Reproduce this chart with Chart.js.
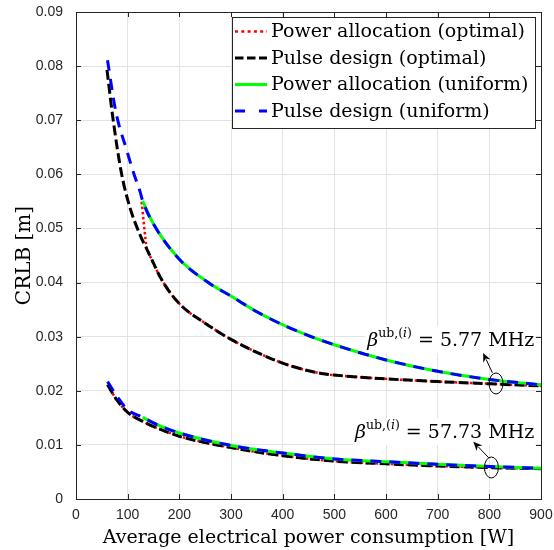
<!DOCTYPE html>
<html>
<head>
<meta charset="utf-8">
<script src="https://cdn.jsdelivr.net/npm/chart.js@4.4.1/dist/chart.umd.min.js"></script>
<style>
  html, body { margin: 0; padding: 0; background: #fff; }
</style>
</head>
<body>
<canvas id="canvas" width="554" height="550"></canvas>
<script>
// values: average power [W] -> CRLB [m]

// upper group (beta = 5.77 MHz)
let hiOptW      = [60, 72, 88, 104, 124, 140, 166, 200, 250, 300, 350, 400, 450, 475, 500, 600, 700, 800, 900];
let hiOptCRLB   = [0.0793, 0.0700, 0.0602, 0.0540, 0.0488, 0.0456, 0.0405, 0.0361, 0.0325, 0.0295, 0.0271, 0.0251, 0.0237, 0.0232, 0.0229, 0.0222, 0.0217, 0.0213, 0.0209];
let hiPowW      = [127, 137, 140, 166, 200, 250, 300, 350, 400, 450, 475, 500, 600, 700, 800, 900];
let hiPowCRLB   = [0.0549, 0.0463, 0.0456, 0.0405, 0.0361, 0.0325, 0.0295, 0.0271, 0.0251, 0.0237, 0.0232, 0.0229, 0.0222, 0.0217, 0.0213, 0.0209];
let hiUniW      = [129, 150, 200, 256, 300, 350, 400, 450, 500, 600, 700, 800, 900];
let hiUniCRLB   = [0.0551, 0.0508, 0.0443, 0.0400, 0.0375, 0.0346, 0.0322, 0.0302, 0.0285, 0.0257, 0.0236, 0.0221, 0.0211];
let hiPulseW    = [61, 77, 98, 112, 124, 129, 150, 200, 256, 300, 350, 400, 450, 500, 600, 700, 800, 900];
let hiPulseCRLB = [0.0811, 0.0716, 0.0645, 0.0601, 0.0568, 0.0551, 0.0508, 0.0443, 0.0400, 0.0375, 0.0346, 0.0322, 0.0302, 0.0285, 0.0257, 0.0236, 0.0221, 0.0211];

// lower group (beta = 57.73 MHz)
let loOptW      = [61, 79, 100, 130, 160, 200, 300, 400, 500, 600, 700, 800, 900];
let loOptCRLB   = [0.0211, 0.0183, 0.0160, 0.0143, 0.0130, 0.0116, 0.0095, 0.0080, 0.0070, 0.0065, 0.0061, 0.0058, 0.0056];
let loUniW      = [129, 160, 200, 300, 400, 500, 600, 700, 800, 900];
let loUniCRLB   = [0.0151, 0.0136, 0.0122, 0.0099, 0.0085, 0.0074, 0.0069, 0.0064, 0.0060, 0.0057];
let loPulseW    = [61, 80, 100, 129, 160, 200, 300, 400, 500, 600, 700, 800, 900];
let loPulseCRLB = [0.0217, 0.0189, 0.0165, 0.0151, 0.0136, 0.0122, 0.0099, 0.0085, 0.0074, 0.0069, 0.0064, 0.0060, 0.0057];

let seriesNames = ['Power allocation (optimal)', 'Pulse design (optimal)', 'Power allocation (uniform)', 'Pulse design (uniform)'];
let betaLabels  = ['5.77', '57.73'];

let xTicksMax = 900;
let yTicksMax = 0.09;

// annotation anchors, in data units
let notes = [
  { value: betaLabels[0], textW: 887, textV: 0.0283, ellW: 813, ellV: 0.02135, tailW: 806, tailV: 0.0233, tipW: 788, tipV: 0.0270 },
  { value: betaLabels[1], textW: 887, textV: 0.01127, ellW: 804, ellV: 0.00582, tailW: 799, tailV: 0.0076, tipW: 769, tipV: 0.0106 }
];

function pts(xs, ys) {
  return xs.map(function(x, i) { return { x: x, y: ys[i] }; });
}

let serif = '"DejaVu Serif", "Liberation Serif", serif';

// line styles per series
let looks = [
  { borderColor: '#ff0000', borderWidth: 2.5, borderDash: [2.5, 2.5], legendDash: [3, 3.3], order: 4 },
  { borderColor: '#000000', borderWidth: 3,   borderDash: [10, 4],    legendDash: [8.5, 3.5], order: 3 },
  { borderColor: '#00ff00', borderWidth: 3,   borderDash: [],         legendDash: [], order: 2 },
  { borderColor: '#0000ff', borderWidth: 3,   borderDash: [11, 8],    legendDash: [10, 14], order: 1 }
];

function makeSet(k, data, inLegend) {
  return Object.assign({
    label: seriesNames[k],
    data: data,
    inLegend: inLegend,
    fill: false,
    pointRadius: 0,
    pointHoverRadius: 0,
    cubicInterpolationMode: 'monotone',
    borderCapStyle: 'butt'
  }, looks[k]);
}

let datasets = [
  makeSet(0, pts(hiPowW, hiPowCRLB), true),
  makeSet(1, pts(hiOptW, hiOptCRLB), true),
  makeSet(2, pts(hiUniW, hiUniCRLB), true),
  makeSet(3, pts(hiPulseW, hiPulseCRLB), true),
  makeSet(0, pts(loOptW, loOptCRLB), false),
  makeSet(1, pts(loOptW, loOptCRLB), false),
  makeSet(2, pts(loUniW, loUniCRLB), false),
  makeSet(3, pts(loPulseW, loPulseCRLB), false)
];

function drawNote(ctx, xs, ys, n) {
  let right = xs.getPixelForValue(n.textW);
  let base = ys.getPixelForValue(n.textV);
  let parts = [
    { t: '\u03B2', f: 'italic 19px ' + serif, dy: 0 },
    { t: 'ub,(', f: '12.5px ' + serif, dy: -9 },
    { t: 'i', f: 'italic 12.5px ' + serif, dy: -9 },
    { t: ')', f: '12.5px ' + serif, dy: -9 },
    { t: ' = ' + n.value + ' MHz', f: '19px ' + serif, dy: 0 }
  ];
  let total = 0;
  parts.forEach(function(p) { ctx.font = p.f; p.w = ctx.measureText(p.t).width; total += p.w; });
  let left = right - total;
  ctx.fillStyle = '#ffffff';
  ctx.fillRect(left - 2, base - 20, total + 3, 27);
  ctx.fillStyle = '#000000';
  ctx.textBaseline = 'alphabetic';
  ctx.textAlign = 'left';
  let cx = left;
  parts.forEach(function(p) {
    ctx.font = p.f;
    ctx.fillText(p.t, cx, base + p.dy);
    cx += p.w;
  });

  // ellipse round the two curves
  ctx.strokeStyle = '#000000';
  ctx.lineWidth = 1;
  ctx.setLineDash([]);
  ctx.beginPath();
  ctx.ellipse(xs.getPixelForValue(n.ellW), ys.getPixelForValue(n.ellV), 7, 10.5, 0, 0, Math.PI * 2);
  ctx.stroke();

  // arrow towards the label
  let x0 = xs.getPixelForValue(n.tailW), y0 = ys.getPixelForValue(n.tailV);
  let x1 = xs.getPixelForValue(n.tipW), y1 = ys.getPixelForValue(n.tipV);
  let ang = Math.atan2(y1 - y0, x1 - x0);
  let hl = 9, hw = 4;
  ctx.beginPath();
  ctx.moveTo(x0, y0);
  ctx.lineTo(x1 - Math.cos(ang) * hl * 0.8, y1 - Math.sin(ang) * hl * 0.8);
  ctx.stroke();
  ctx.fillStyle = '#000000';
  ctx.beginPath();
  ctx.moveTo(x1, y1);
  ctx.lineTo(x1 - Math.cos(ang) * hl - Math.sin(ang) * hw, y1 - Math.sin(ang) * hl + Math.cos(ang) * hw);
  ctx.lineTo(x1 - Math.cos(ang) * hl * 0.7, y1 - Math.sin(ang) * hl * 0.7);
  ctx.lineTo(x1 - Math.cos(ang) * hl + Math.sin(ang) * hw, y1 - Math.sin(ang) * hl - Math.cos(ang) * hw);
  ctx.closePath();
  ctx.fill();
}

function drawLegend(chart) {
  let ctx = chart.ctx, a = chart.chartArea;
  let items = chart.data.datasets.filter(function(d) { return d.inLegend; });
  let font = '19px ' + serif;
  ctx.font = font;
  let textW = Math.max.apply(null, items.map(function(d) { return ctx.measureText(d.label).width; }));
  let rowH = 26.5, sample = 32;
  let w = Math.round(3 + sample + 4 + textW + 7);
  let h = Math.round(rowH * items.length + 5);
  let right = a.right - 6, top = a.top + 5;
  let left = right - w;
  ctx.fillStyle = '#ffffff';
  ctx.fillRect(left, top, w, h);
  ctx.strokeStyle = '#262626';
  ctx.lineWidth = 1;
  ctx.setLineDash([]);
  ctx.strokeRect(left + 0.5, top + 0.5, w, h);
  items.forEach(function(d, i) {
    let cy = top + 14.5 + i * rowH;
    ctx.save();
    ctx.strokeStyle = d.borderColor;
    ctx.lineWidth = d.borderWidth;
    ctx.setLineDash(d.legendDash);
    ctx.beginPath();
    ctx.moveTo(left + 3, cy);
    ctx.lineTo(left + 3 + sample, cy);
    ctx.stroke();
    ctx.restore();
    ctx.fillStyle = '#000000';
    ctx.font = font;
    ctx.textBaseline = 'middle';
    ctx.textAlign = 'left';
    ctx.fillText(d.label, left + 3 + sample + 4, cy + 1);
  });
}

// box, inward ticks, notes and legend on top of the lines
let frame = {
  id: 'frame',
  afterDatasetsDraw: function(chart) {
    let ctx = chart.ctx, a = chart.chartArea;
    let xs = chart.scales.x, ys = chart.scales.y;
    ctx.save();
    notes.forEach(function(n) { drawNote(ctx, xs, ys, n); });

    ctx.strokeStyle = '#262626';
    ctx.lineWidth = 1;
    ctx.setLineDash([]);
    ctx.beginPath();
    xs.ticks.forEach(function(t) {
      let px = Math.round(xs.getPixelForValue(t.value)) + 0.5;
      ctx.moveTo(px, a.bottom); ctx.lineTo(px, a.bottom - 5);
      ctx.moveTo(px, a.top); ctx.lineTo(px, a.top + 5);
    });
    ys.ticks.forEach(function(t) {
      let py = Math.round(ys.getPixelForValue(t.value)) + 0.5;
      ctx.moveTo(a.left, py); ctx.lineTo(a.left + 5, py);
      ctx.moveTo(a.right, py); ctx.lineTo(a.right - 5, py);
    });
    ctx.stroke();
    ctx.strokeRect(Math.round(a.left) + 0.5, Math.round(a.top) + 0.5,
                   Math.round(a.right - a.left), Math.round(a.bottom - a.top));

    drawLegend(chart);
    ctx.restore();
  }
};

let options = {
  type: 'line',
  data: { datasets: datasets },
  options: {
    responsive: false,
    animation: false,
    events: [],
    layout: { padding: { top: 12, right: 13, left: 0, bottom: 0 } },
    plugins: {
      legend: { display: false },
      tooltip: { enabled: false }
    },
    scales: {
      x: {
        type: 'linear',
        min: 0,
        max: xTicksMax,
        afterFit: function(s) { s.height = 51; s.paddingLeft = 0; s.paddingRight = 0; },
        ticks: { stepSize: 100, color: '#262626', padding: 8, maxRotation: 0,
                 font: { family: '"Liberation Sans", Arial, sans-serif', size: 14 } },
        grid: { color: '#e3e3e3', drawTicks: false },
        border: { display: false },
        title: { display: true, text: 'Average electrical power consumption [W]', color: '#000000',
                 padding: { top: 0, bottom: 1 },
                 font: { family: serif, size: 19 } }
      },
      y: {
        type: 'linear',
        min: 0,
        max: yTicksMax,
        afterFit: function(s) { s.width = 76; s.paddingTop = 0; s.paddingBottom = 0; },
        ticks: { stepSize: 0.01, color: '#262626', padding: 13,
                 font: { family: '"Liberation Sans", Arial, sans-serif', size: 14 },
                 callback: function(v) { return v === 0 ? '0' : v.toFixed(2); } },
        grid: { color: '#e3e3e3', drawTicks: false },
        border: { display: false },
        title: { display: true, text: 'CRLB [m]', color: '#000000',
                 padding: { top: 13, bottom: 0 },
                 font: { family: serif, size: 20 } }
      }
    }
  },
  plugins: [frame]
};

let chart = new Chart(document.getElementById('canvas'), options);
</script>
</body>
</html>
